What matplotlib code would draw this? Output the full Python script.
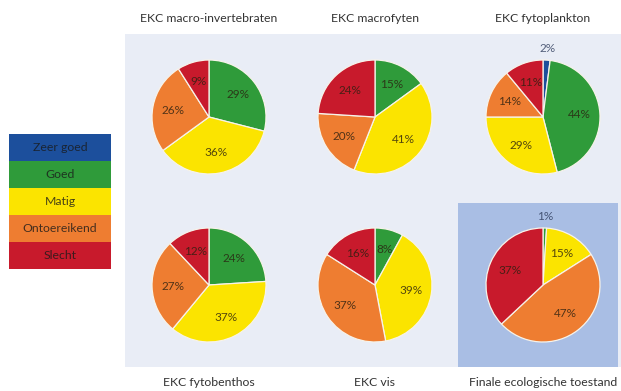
import matplotlib.pyplot as plt
from matplotlib.patches import Rectangle

# Data
klassen = ["Zeer goed", "Goed", "Matig", "Ontoereikend", "Slecht"]
kleuren = ["#1c4f9c", "#2f9b3a", "#fbe400", "#ee7d31", "#c81a2c"]

titels = ["EKC macro-invertebraten", "EKC macrofyten", "EKC fytoplankton",
          "EKC fytobenthos", "EKC vis", "Finale ecologische toestand"]
macro_invertebraten = [0, 29, 36, 26, 9]
macrofyten = [0, 15, 41, 20, 24]
fytoplankton = [2, 44, 29, 14, 11]
fytobenthos = [0, 24, 37, 27, 12]
vis = [0, 8, 39, 37, 16]
finale = [0, 1, 15, 47, 37]
reeksen = [macro_invertebraten, macrofyten, fytoplankton, fytobenthos, vis, finale]

W, H = 621, 391
plt.rcParams["font.family"] = ["Lato", "DejaVu Sans"]
fig = plt.figure(figsize=(W / 100, H / 100), dpi=100)

# background axes in pixel coords (top-left origin)
bg = fig.add_axes([0, 0, 1, 1], zorder=-1)
bg.set_xlim(0, W)
bg.set_ylim(H, 0)
bg.axis("off")
bg.add_patch(Rectangle((125, 34), 496, 333, color="#e9edf6", lw=0))
bg.add_patch(Rectangle((458, 203), 160, 164, color="#a9bee4", lw=0))


def px(x, y, w, h):
    # pixel box (top-left origin) -> figure fraction
    return [x / W, 1 - (y + h) / H, w / W, h / H]


centra = [(209, 117), (375, 117), (543, 117), (209, 285), (375, 285), (543, 285)]
R = 57
half = 1.4 * R

for i, (titel, waarden) in enumerate(zip(titels, reeksen)):
    cx, cy = centra[i]
    ax = fig.add_axes(px(cx - half, cy - half, 2 * half, 2 * half))
    ax.set_facecolor("none")
    vals = [v for v in waarden if v > 0]
    cols = [c for v, c in zip(waarden, kleuren) if v > 0]
    wedges, _, pcts = ax.pie(vals, colors=cols, startangle=90, counterclock=False,
                             autopct="%1.0f%%", pctdistance=0.64,
                             wedgeprops=dict(edgecolor="#f7f3ea", linewidth=0.9),
                             textprops=dict(fontsize=8.5, color="#2a2010", alpha=0.8))
    for t, v in zip(pcts, vals):
        if v < 5:
            x, y = t.get_position()
            r = (x ** 2 + y ** 2) ** 0.5
            t.set_position((x / r * 1.2, y / r * 1.2))
            t.set_color("#2c3a5a")
    ax.set_xlim(-1.4, 1.4)
    ax.set_ylim(-1.4, 1.4)
    ax.set_aspect("equal")
    ax.axis("off")
    ty = 18 if i < 3 else 382
    bg.text(cx, ty, titel, ha="center", va="center", fontsize=8.8, color="#333333")

# legend
lx, ly, lw, lh = 9, 134, 102, 27
for j, (k, c) in enumerate(zip(klassen, kleuren)):
    bg.add_patch(Rectangle((lx, ly + j * lh), lw, lh, color=c, lw=0))
    bg.text(lx + lw / 2, ly + j * lh + lh / 2, k, ha="center", va="center",
            fontsize=8.8, color="#1a1a1a", alpha=0.8)

fig.savefig("out.png", dpi=100)
